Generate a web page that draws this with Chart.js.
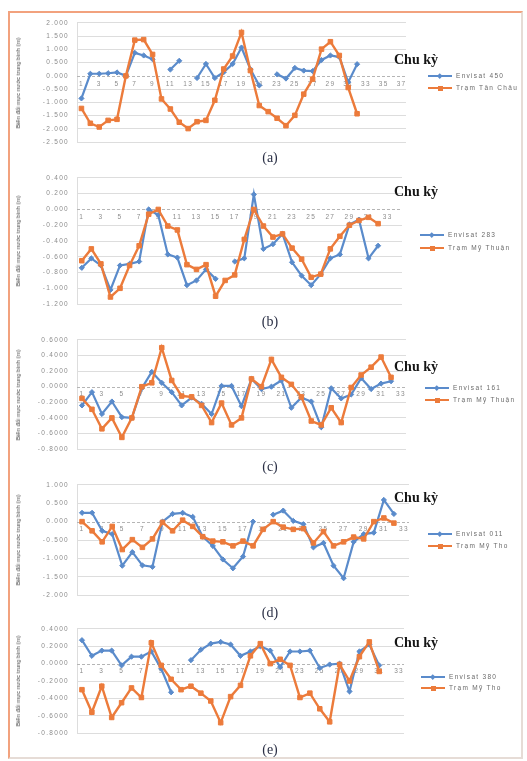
<!DOCTYPE html>
<html><head><meta charset="utf-8">
<script src="https://cdn.jsdelivr.net/npm/chart.js@4.4.1/dist/chart.umd.min.js"></script>
<style>
html,body{margin:0;padding:0;background:#fff;}
#wrap{position:relative;width:527px;height:761px;overflow:hidden;background:#fff;}
#frame{position:absolute;left:8px;top:11px;width:511px;height:744px;border:2px solid #F2A27E;border-right-color:#e6dcd6;border-bottom-color:#e6dcd6;}
canvas{position:absolute;}
.ytitle{position:absolute;font:6px 'Liberation Sans',Arial,sans-serif;color:#444;white-space:nowrap;transform:translate(-50%,-50%) rotate(-90deg);}
.chu{position:absolute;font:bold 14px 'Liberation Serif','Times New Roman',serif;color:#151515;white-space:nowrap;}
.cap{position:absolute;font:14px 'Liberation Serif','Times New Roman',serif;color:#2a2f45;transform:translateX(-50%);white-space:nowrap;}
.leg{position:absolute;font:6.5px 'Liberation Sans',Arial,sans-serif;color:#6a6a6a;letter-spacing:1.3px;}
.leg .row{position:relative;height:12px;white-space:nowrap;}
.leg .ln{position:absolute;left:0;top:5px;width:24px;height:2px;}
.leg .mk{position:absolute;}
.leg .tx{position:absolute;left:28px;top:0;line-height:12px;}
</style>
</head><body>
<div id="wrap">
  <div id="frame"></div>
</div>
<script>
// ---------- categories ----------
const cats37 = ['1','2','3','4','5','6','7','8','9','10','11','12','13','14','15','16','17','18','19','20','21','22','23','24','25','26','27','28','29','30','31','32','33','34','35','36','37'];
const cats34 = ['1','2','3','4','5','6','7','8','9','10','11','12','13','14','15','16','17','18','19','20','21','22','23','24','25','26','27','28','29','30','31','32','33','34'];
const cats33 = ['1','2','3','4','5','6','7','8','9','10','11','12','13','14','15','16','17','18','19','20','21','22','23','24','25','26','27','28','29','30','31','32','33'];

// ---------- series names ----------
const namesA = ['Envisat 450', 'Trạm Tân Châu'];
const namesB = ['Envisat 283', 'Trạm Mỹ Thuận'];
const namesC = ['Envisat 161', 'Trạm Mỹ Thuận'];
const namesD = ['Envisat 011', 'Trạm Mỹ Tho'];
const namesE = ['Envisat 380', 'Trạm Mỹ Tho'];

// ---------- values ----------
const blueA = [-0.85,0.08,0.08,0.10,0.13,0.00,0.87,0.77,0.63,null,0.24,0.57,null,-0.08,0.45,-0.08,0.14,0.45,1.07,0.25,-0.36,null,0.06,-0.10,0.30,0.20,0.18,0.60,0.77,0.71,-0.24,0.44,null,null,null,null,null];
const orangeA = [-1.23,-1.79,-1.93,-1.68,-1.64,0.00,1.35,1.37,0.81,-0.87,-1.25,-1.75,-1.99,-1.73,-1.68,-0.92,0.26,0.75,1.64,0.20,-1.12,-1.35,-1.60,-1.88,-1.49,-0.69,-0.12,1.01,1.29,0.77,-0.44,-1.43,null,null,null,null,null];

const blueB = [-0.74,-0.62,-0.71,-1.02,-0.71,-0.69,-0.66,0.00,-0.07,-0.57,-0.61,-0.96,-0.90,-0.76,-0.88,null,-0.66,-0.62,0.19,-0.50,-0.44,-0.31,-0.67,-0.84,-0.96,-0.82,-0.62,-0.57,-0.19,-0.13,-0.62,-0.46,null,null];
const orangeB = [-0.65,-0.50,-0.69,-1.11,-1.00,-0.71,-0.46,-0.06,0.00,-0.21,-0.26,-0.70,-0.76,-0.70,-1.10,-0.90,-0.83,-0.38,0.00,-0.21,-0.35,-0.31,-0.49,-0.63,-0.86,-0.82,-0.50,-0.34,-0.20,-0.14,-0.10,-0.18,null,null];

const blueC = [-0.24,-0.07,-0.35,-0.19,-0.39,-0.40,-0.02,0.19,0.05,-0.07,-0.24,-0.14,-0.22,-0.35,0.01,0.01,-0.25,0.10,-0.03,0.00,0.08,-0.27,-0.14,-0.19,-0.52,-0.02,-0.15,-0.10,0.11,-0.03,0.04,0.07,null];
const orangeC = [-0.15,-0.29,-0.54,-0.40,-0.65,-0.40,0.00,0.05,0.50,0.08,-0.12,-0.13,-0.24,-0.46,-0.21,-0.49,-0.40,0.10,0.00,0.35,0.12,0.03,-0.13,-0.44,-0.49,-0.27,-0.46,-0.01,0.15,0.25,0.38,0.12,null];

const blueD = [0.24,0.24,-0.25,-0.34,-1.20,-0.83,-1.19,-1.23,0.00,0.21,0.24,0.13,-0.41,-0.66,-1.03,-1.27,-0.95,0.00,null,0.19,0.30,0.02,-0.07,-0.70,-0.58,-1.20,-1.54,-0.55,-0.34,-0.30,0.59,0.21,null];
const orangeD = [0.00,-0.25,-0.55,-0.13,-0.76,-0.49,-0.70,-0.47,-0.02,-0.25,0.04,-0.13,-0.41,-0.53,-0.55,-0.66,-0.53,-0.66,-0.21,0.00,-0.15,-0.21,-0.19,-0.58,-0.27,-0.66,-0.55,-0.42,-0.47,0.00,0.10,-0.04,null];

const blueE = [0.27,0.09,0.15,0.15,-0.02,0.08,0.08,0.14,-0.06,-0.33,null,0.04,0.16,0.23,0.25,0.22,0.09,0.14,0.20,0.15,-0.04,0.14,0.14,0.15,-0.05,-0.01,0.00,-0.32,0.14,0.22,-0.02,null,null];
const orangeE = [-0.30,-0.56,-0.26,-0.62,-0.45,-0.28,-0.39,0.24,-0.02,-0.18,-0.30,-0.26,-0.34,-0.43,-0.68,-0.38,-0.25,0.09,0.23,0.00,0.05,-0.02,-0.39,-0.34,-0.52,-0.67,-0.01,-0.20,0.08,0.25,-0.09,null,null];

// ---------- axis ranges ----------
const axisA = {min:-2.5, max:2.0, step:0.5, dec:3};
const axisB = {min:-1.2, max:0.4, step:0.2, dec:3};
const axisC = {min:-0.8, max:0.6, step:0.2, dec:4};
const axisD = {min:-2.0, max:1.0, step:0.5, dec:3};
const axisE = {min:-0.8, max:0.4, step:0.2, dec:4};

const yTitle = 'Biến đổi mực nước trung bình (m)';
const chuKy = 'Chu kỳ';
const captions = ['(a)','(b)','(c)','(d)','(e)'];

const BLUE = '#5A8BCB';
const ORANGE = '#EC7B3B';

const spacing = {id:'sp', beforeDraw(c){ c.ctx.letterSpacing = '1.3px'; }, afterDraw(c){ c.ctx.letterSpacing = '0px'; }};
const zeroLine = {id:'zl', beforeDatasetsDraw(c){
  const y = Math.round(c.scales.y.getPixelForValue(0)) + 0.5;
  const {left, right} = c.chartArea; const ctx = c.ctx;
  ctx.save(); ctx.strokeStyle = '#b5b5b5'; ctx.lineWidth = 1; ctx.setLineDash([3,2]);
  ctx.beginPath(); ctx.moveTo(left, y); ctx.lineTo(right, y); ctx.stroke(); ctx.restore();
}};

function fmt(v, dec){ const n = Number(v); return (Math.abs(n) < 1e-9 ? 0 : n).toFixed(dec); }

const wrap = document.getElementById('wrap');

// panel geometry (page pixels): plot top, plot height, plot right, legend pos, chu ky, caption
const panels = [
  {cats:cats37, names:namesA, blue:blueA, orange:orangeA, ax:axisA, top:19, h:127, right:407, legX:428, legY:70, legGap:12, chuY:52, capY:150},
  {cats:cats34, names:namesB, blue:blueB, orange:orangeB, ax:axisB, top:174, h:134, right:403, legX:420, legY:229, legGap:13, chuY:184, capY:314},
  {cats:cats33, names:namesC, blue:blueC, orange:orangeC, ax:axisC, top:336, h:117, right:407, legX:425, legY:382, legGap:12, chuY:359, capY:459},
  {cats:cats33, names:namesD, blue:blueD, orange:orangeD, ax:axisD, top:481, h:118, right:410, legX:428, legY:528, legGap:12, chuY:490, capY:605},
  {cats:cats33, names:namesE, blue:blueE, orange:orangeE, ax:axisE, top:625, h:112, right:405, legX:421, legY:671, legGap:11, chuY:635, capY:742}
];

function addDiv(cls, text, style){
  const d = document.createElement('div'); d.className = cls; if (text !== null) d.textContent = text;
  Object.assign(d.style, style); wrap.appendChild(d); return d;
}

panels.forEach((p, idx) => {
  const cv = document.createElement('canvas');
  const left = 10, padT = 8, padB = 8, padR = 4;
  const W = p.right - left + padR, H = p.h + padT + padB;
  cv.width = W; cv.height = H;
  cv.style.left = left + 'px'; cv.style.top = (p.top - padT) + 'px';
  cv.style.width = W + 'px'; cv.style.height = H + 'px';
  wrap.appendChild(cv);

  new Chart(cv, {
    type: 'line',
    data: { labels: p.cats, datasets: [
      {label:p.names[0], data:p.blue, borderColor:BLUE, backgroundColor:BLUE, pointStyle:'rectRot', pointRadius:2.6, pointBorderWidth:1, borderWidth:2.2, tension:0, spanGaps:false, order:1},
      {label:p.names[1], data:p.orange, borderColor:ORANGE, backgroundColor:ORANGE, pointStyle:'rect', pointRadius:3.2, pointBorderWidth:1, borderWidth:2.4, tension:0, spanGaps:false, order:0}
    ]},
    options: {
      responsive:false, animation:false, devicePixelRatio:1,
      layout:{padding:{top:padT, bottom:padB, left:0, right:padR}},
      plugins:{legend:{display:false}, tooltip:{enabled:false}},
      scales:{
        x:{type:'category', position:{y:0}, offset:true,
           grid:{display:false, drawTicks:false}, border:{display:false},
           ticks:{autoSkip:false, maxRotation:0, minRotation:0, padding:4, color:'#8c8c8c',
                  font:{size:6.5, family:"'Liberation Sans', Arial, sans-serif"},
                  callback:function(v,i){ return i % 2 === 0 ? this.getLabelForValue(v) : ''; }}},
        y:{min:p.ax.min, max:p.ax.max,
           ticks:{stepSize:p.ax.step, padding:8, color:'#8c8c8c', font:{size:6.5, family:"'Liberation Sans', Arial, sans-serif"},
                  callback:v => fmt(v, p.ax.dec)},
           grid:{drawTicks:false, color: c => (c.tick && Math.abs(c.tick.value) < 1e-6) ? 'rgba(0,0,0,0)' : '#dddddd', lineWidth:1},
           border:{display:true, color:'#dddddd'},
           afterFit: s => { s.width = 67; }}
      }
    },
    plugins:[zeroLine, spacing]
  });

  addDiv('ytitle', yTitle, {left:'18px', top:(p.top + p.h/2) + 'px'});
  addDiv('chu', chuKy, {left:'394px', top:p.chuY + 'px'});
  addDiv('cap', captions[idx], {left:'270px', top:p.capY + 'px'});
  const leg = addDiv('leg', null, {left:p.legX + 'px', top:p.legY + 'px'});
  [[p.names[0], BLUE, 'diamond'], [p.names[1], ORANGE, 'square']].forEach((e, k) => {
    const row = document.createElement('div'); row.className = 'row'; row.style.height = p.legGap + 'px';
    const ln = document.createElement('div'); ln.className = 'ln'; ln.style.background = e[1];
    ln.style.height = k === 0 ? '1.6px' : '2px';
    const mk = document.createElement('div'); mk.className = 'mk'; mk.style.background = e[1];
    if (e[2] === 'diamond') { Object.assign(mk.style, {left:'10px', top:'4px', width:'3.5px', height:'3.5px', transform:'rotate(45deg)'}); }
    else { Object.assign(mk.style, {left:'9.5px', top:'3.5px', width:'5px', height:'5px'}); }
    const tx = document.createElement('div'); tx.className = 'tx'; tx.textContent = e[0];
    row.appendChild(ln); row.appendChild(mk); row.appendChild(tx); leg.appendChild(row);
  });
});
</script>
</body></html>
